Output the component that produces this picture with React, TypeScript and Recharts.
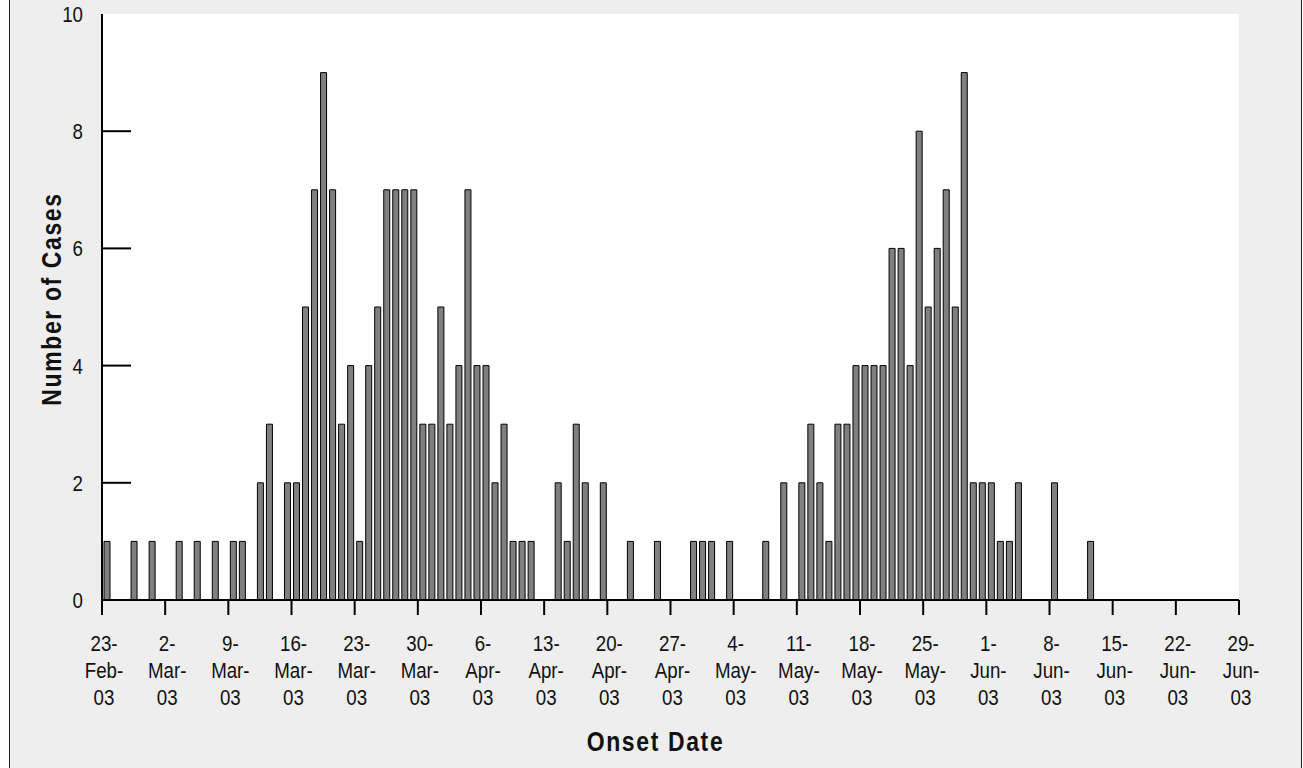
import { BarChart, Bar, XAxis, YAxis, CartesianGrid, Label } from "recharts";

// daily onset counts, 23-Feb-03 .. 28-Jun-03 (one row per week)
const cases = [
  1, 0, 0, 1, 0, 1, 0,
  0, 1, 0, 1, 0, 1, 0,
  1, 1, 0, 2, 3, 0, 2,
  2, 5, 7, 9, 7, 3, 4,
  1, 4, 5, 7, 7, 7, 7,
  3, 3, 5, 3, 4, 7, 4,
  4, 2, 3, 1, 1, 1, 0,
  0, 2, 1, 3, 2, 0, 2,
  0, 0, 1, 0, 0, 1, 0,
  0, 0, 1, 1, 1, 0, 1,
  0, 0, 0, 1, 0, 2, 0,
  2, 3, 2, 1, 3, 3, 4,
  4, 4, 4, 6, 6, 4, 8,
  5, 6, 7, 5, 9, 2, 2,
  2, 1, 1, 2, 0, 0, 0,
  2, 0, 0, 0, 1, 0, 0,
  0, 0, 0, 0, 0, 0, 0,
  0, 0, 0, 0, 0, 0, 0,
];

const dateTicks = [0, 7, 14, 21, 28, 35, 42, 49, 56, 63, 70, 77, 84, 91, 98, 105, 112, 119, 126];
const dateTickLabels = [
  "23-Feb-03", "2-Mar-03", "9-Mar-03", "16-Mar-03", "23-Mar-03", "30-Mar-03",
  "6-Apr-03", "13-Apr-03", "20-Apr-03", "27-Apr-03", "4-May-03", "11-May-03",
  "18-May-03", "25-May-03", "1-Jun-03", "8-Jun-03", "15-Jun-03", "22-Jun-03", "29-Jun-03",
];
const caseTicks = [0, 2, 4, 6, 8, 10];

const data = cases.map((value, i) => ({ day: i, cases: value }));

// no narrow font installed, so squeeze Liberation Sans horizontally
const FONT = '"Liberation Sans", Arial, sans-serif';
const SQUEEZE = 0.85;

function DateTick({ x, y, payload }: any) {
  const label = dateTickLabels[dateTicks.indexOf(payload.value)] ?? "";
  const parts = label.split("-");
  const lines = [parts[0] + "-", parts[1] + "-", parts[2]];
  return (
    <g transform={`translate(${x + 2},${y})`}>
      <text transform={`scale(${SQUEEZE},1)`} textAnchor="middle" fontFamily={FONT} fontSize={22} fill="#111">
        {lines.map((t, i) => (
          <tspan key={i} x={0} y={34 + i * 27}>
            {t}
          </tspan>
        ))}
      </text>
    </g>
  );
}

function CaseTick({ x, y, payload }: any) {
  const v = payload.value;
  return (
    <g>
      {v > 0 && v < 10 && (
        <line x1={x + 19} y1={y} x2={x + 48} y2={y} stroke="#000" strokeWidth={2} />
      )}
      <text
        transform={`translate(${x},${y}) scale(${SQUEEZE},1)`}
        x={0}
        y={0}
        dy="0.36em"
        textAnchor="end"
        fontFamily={FONT}
        fontSize={22}
        fill="#111"
      >
        {v}
      </text>
    </g>
  );
}

const titleStyle = {
  fontFamily: FONT,
  fontSize: 28,
  fontWeight: 700,
  letterSpacing: 2,
  fill: "#111",
};

export default function App() {
  return (
    <div style={{ position: "absolute", left: 0, top: 0, width: 1303, height: 768, background: "#fff", overflow: "hidden" }}>
      <div
        style={{
          position: "absolute",
          left: 9,
          top: -5,
          width: 1291,
          height: 790,
          background: "#eeeeee",
          borderLeft: "1px solid #222",
          borderRight: "1px solid #222",
        }}
      />
      <div style={{ position: "absolute", left: 0, top: 0 }}>
        <BarChart
          width={1303}
          height={768}
          data={data}
          margin={{ top: 14, right: 64, bottom: 68, left: 0 }}
        >
          <CartesianGrid xAxisId="days" fill="#fff" horizontal={false} vertical={false} />
          <Bar
            dataKey="cases"
            xAxisId="days"
            fill="#808080"
            stroke="#000"
            strokeWidth={1}
            barSize={6}
            isAnimationActive={false}
          />
          <XAxis xAxisId="days" dataKey="day" hide />
          <XAxis
            xAxisId="dates"
            dataKey="day"
            type="number"
            domain={[0, 126]}
            allowDataOverflow
            ticks={dateTicks}
            interval={0}
            height={100}
            tickSize={15}
            tick={<DateTick />}
            tickLine={{ stroke: "#000", strokeWidth: 2 }}
            axisLine={{ stroke: "#000", strokeWidth: 2 }}
          >
            <Label
              content={(props: any) => {
                const vb = props.viewBox || { x: 102, y: 600, width: 1137, height: 100 };
                const cx = vb.x + vb.width / 2 - 15;
                const cy = vb.y + 151;
                return (
                  <text transform={`translate(${cx},${cy}) scale(0.82,1)`} x={0} y={0} textAnchor="middle" style={titleStyle}>
                    Onset Date
                  </text>
                );
              }}
            />
          </XAxis>
          <XAxis
            xAxisId="top"
            dataKey="day"
            orientation="top"
            type="number"
            domain={[0, 126]}
            allowDataOverflow
            height={0}
            tick={false}
            tickLine={false}
            axisLine={{ stroke: "#000", strokeWidth: 2 }}
          />
          <YAxis
            domain={[0, 10]}
            ticks={caseTicks}
            interval={0}
            width={102}
            tickSize={0}
            tickMargin={19}
            tick={<CaseTick />}
            tickLine={false}
            axisLine={{ stroke: "#000", strokeWidth: 2 }}
          >
            <Label
              content={(props: any) => {
                const vb = props.viewBox || { x: 0, y: 14, width: 102, height: 586 };
                const cx = vb.x + 61;
                const cy = vb.y + vb.height / 2 - 8;
                return (
                  <text
                    transform={`translate(${cx},${cy}) rotate(-90) scale(0.82,1)`}
                    x={0}
                    y={0}
                    textAnchor="middle"
                    style={titleStyle}
                  >
                    Number of Cases
                  </text>
                );
              }}
            />
          </YAxis>
          <YAxis
            yAxisId="right"
            orientation="right"
            domain={[0, 10]}
            allowDataOverflow
            width={0}
            tick={false}
            tickLine={false}
            axisLine={{ stroke: "#000", strokeWidth: 2 }}
          />
        </BarChart>
      </div>
    </div>
  );
}
